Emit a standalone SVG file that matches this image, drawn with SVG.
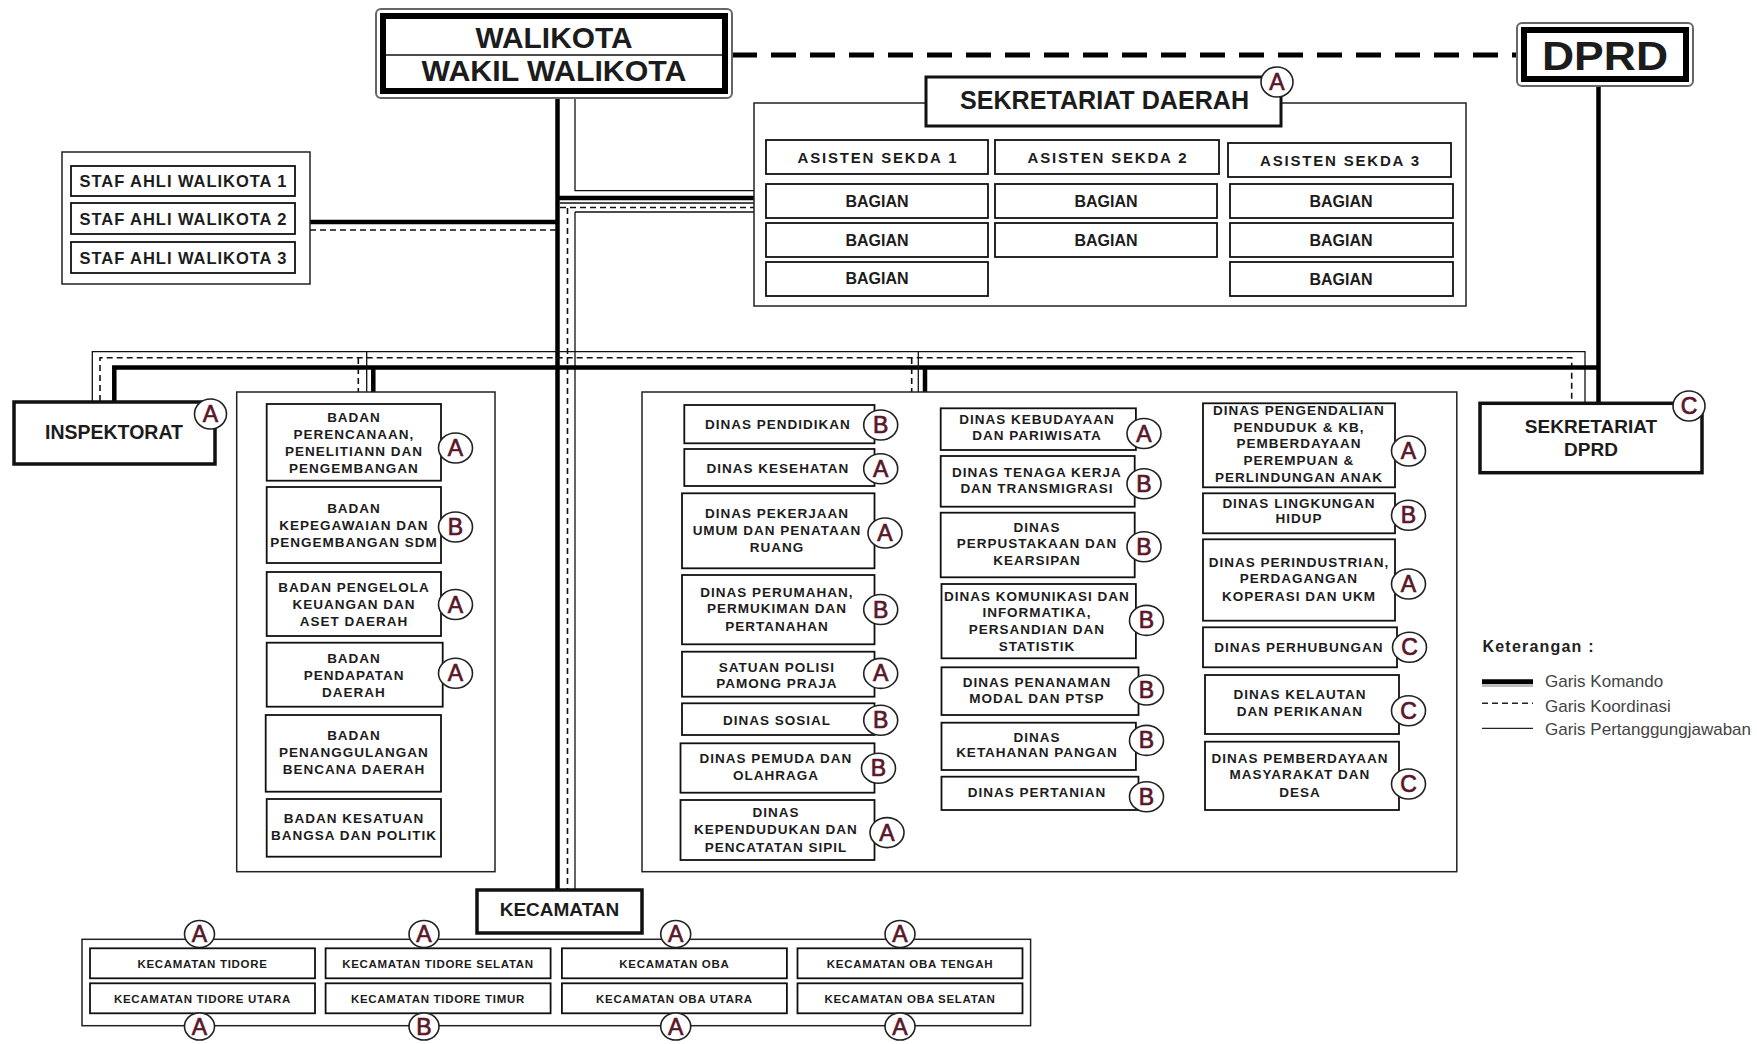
<svg xmlns="http://www.w3.org/2000/svg" width="1757" height="1044" viewBox="0 0 1757 1044">
<defs>
<style>
.bg{fill:#fff}
.box{fill:#fff;stroke:#111;stroke-width:1.8}
.cont{fill:#fff;stroke:#222;stroke-width:1.5}
.tbox{fill:#fff;stroke:#111;stroke-width:3.5}
.t{font-family:"Liberation Sans",Arial,sans-serif;font-weight:bold;fill:#1c1c1c;text-anchor:middle}
.s{font-size:13.5px;letter-spacing:1px}
.k{font-size:11.5px;letter-spacing:0.7px}
.bg-e{fill:#fff;stroke:#222;stroke-width:1.6}
.bl{font-family:"Liberation Sans",Arial,sans-serif;font-size:23px;fill:#5a1628;stroke:#5a1628;stroke-width:0.7;text-anchor:middle}
.thick{stroke:#000;stroke-width:4.5;fill:none}
.thin{stroke:#111;stroke-width:1.3;fill:none}
.dash{stroke:#111;stroke-width:1.6;stroke-dasharray:6 4;fill:none}
.leg{font-family:"Liberation Sans",Arial,sans-serif;font-size:17px;fill:#444}
</style>
</defs>
<rect class="bg" x="0" y="0" width="1757" height="1044"/>

<g id="connectors">
  <line x1="732" y1="55" x2="1517" y2="55" stroke="#000" stroke-width="5" stroke-dasharray="25 14"/>
  <line class="thick" x1="557.5" y1="98" x2="557.5" y2="890"/>
  <line class="dash" x1="567.5" y1="208" x2="567.5" y2="890"/>
  <line class="thin" x1="575" y1="212" x2="575" y2="890"/>
  <polyline class="thin" points="575,98 575,190.7 755,190.7"/>
  <line class="thick" x1="557" y1="198" x2="755" y2="198"/>
  <line class="thin" x1="560" y1="203" x2="755" y2="203"/>
  <line class="dash" x1="560" y1="207.5" x2="755" y2="207.5"/>
  <line class="thin" x1="575" y1="212" x2="755" y2="212"/>
  <line class="thick" x1="310" y1="222" x2="557" y2="222"/>
  <line class="dash" x1="310" y1="230" x2="557" y2="230"/>
  <line class="thick" x1="1598.5" y1="86" x2="1598.5" y2="403"/>
  <polyline class="thin" points="92.3,401 92.3,351.7 1585,351.7 1585,403"/>
  <polyline class="dash" points="100,401 100,357.7 1571.7,357.7 1571.7,403"/>
  <polyline class="thick" points="114.3,402 114.3,367.5 1598.5,367.5"/>
  <line class="dash" x1="358.3" y1="358" x2="358.3" y2="392"/>
  <line class="thin" x1="366.7" y1="351.7" x2="366.7" y2="392"/>
  <line class="thick" x1="373.3" y1="367.5" x2="373.3" y2="392"/>
  <line class="dash" x1="911.7" y1="358" x2="911.7" y2="392"/>
  <line class="thin" x1="918.3" y1="351.7" x2="918.3" y2="392"/>
  <line class="thick" x1="925" y1="367.5" x2="925" y2="392"/>
</g>

<g id="walikota">
  <rect x="376" y="9" width="356" height="89" rx="5" fill="#fff" stroke="#666" stroke-width="2"/>
  <rect x="383" y="16" width="342" height="75" fill="#fff" stroke="#000" stroke-width="6"/>
  <line x1="386" y1="55" x2="722" y2="55" stroke="#111" stroke-width="1.5"/>
  <text class="t" x="554" y="47.7" font-size="30" textLength="157" lengthAdjust="spacingAndGlyphs">WALIKOTA</text>
  <text class="t" x="554" y="81" font-size="30" textLength="265" lengthAdjust="spacingAndGlyphs">WAKIL WALIKOTA</text>
</g>

<g id="dprd">
  <rect x="1517" y="23" width="176" height="63" rx="5" fill="#fff" stroke="#666" stroke-width="2"/>
  <rect x="1524" y="30" width="162" height="49" fill="#fff" stroke="#000" stroke-width="6"/>
  <text class="t" x="1605" y="70" font-size="40" textLength="126" lengthAdjust="spacingAndGlyphs">DPRD</text>
</g>

<g id="sekretariat-daerah">
  <rect class="cont" x="754" y="103" width="712" height="203"/>
  <rect x="926" y="77" width="355" height="49" fill="#fff" stroke="#111" stroke-width="3"/>
  <text class="t" x="1104.5" y="109" font-size="26" textLength="289" lengthAdjust="spacingAndGlyphs">SEKRETARIAT  DAERAH</text>
  <ellipse class="bg-e" cx="1277" cy="82" rx="16" ry="15"/><text class="bl" x="1277" y="90">A</text>
  <rect class="box" x="766" y="140" width="222" height="34"/>
  <text class="t" x="877" y="162.7" font-size="15" textLength="159" lengthAdjust="spacing">ASISTEN  SEKDA 1</text>
  <rect class="box" x="995" y="140" width="224" height="34"/>
  <text class="t" x="1107" y="162.7" font-size="15" textLength="159" lengthAdjust="spacing">ASISTEN  SEKDA 2</text>
  <rect class="box" x="1228" y="143" width="223" height="34"/>
  <text class="t" x="1339.5" y="166" font-size="15" textLength="159" lengthAdjust="spacing">ASISTEN  SEKDA 3</text>
  <rect class="box" x="766" y="184" width="222" height="34"/><text class="t" x="877" y="207" font-size="16">BAGIAN</text>
  <rect class="box" x="766" y="223" width="222" height="34"/><text class="t" x="877" y="246" font-size="16">BAGIAN</text>
  <rect class="box" x="766" y="262" width="222" height="34"/><text class="t" x="877" y="284" font-size="16">BAGIAN</text>
  <rect class="box" x="995" y="184" width="222" height="34"/><text class="t" x="1106" y="207" font-size="16">BAGIAN</text>
  <rect class="box" x="995" y="223" width="222" height="34"/><text class="t" x="1106" y="246" font-size="16">BAGIAN</text>
  <rect class="box" x="1230" y="184" width="223" height="34"/><text class="t" x="1341" y="207" font-size="16">BAGIAN</text>
  <rect class="box" x="1230" y="223" width="223" height="34"/><text class="t" x="1341" y="246" font-size="16">BAGIAN</text>
  <rect class="box" x="1230" y="262" width="223" height="34"/><text class="t" x="1341" y="285" font-size="16">BAGIAN</text>
</g>

<g id="staf-ahli">
  <rect class="cont" x="62" y="152" width="248" height="132"/>
  <rect class="box" x="71" y="166" width="224" height="30"/>
  <text class="t" x="183" y="186.5" font-size="16.5" textLength="207" lengthAdjust="spacing">STAF  AHLI WALIKOTA  1</text>
  <rect class="box" x="71" y="203" width="224" height="31"/>
  <text class="t" x="183" y="224.5" font-size="16.5" textLength="207" lengthAdjust="spacing">STAF  AHLI WALIKOTA  2</text>
  <rect class="box" x="71" y="242" width="224" height="31"/>
  <text class="t" x="183" y="263.5" font-size="16.5" textLength="207" lengthAdjust="spacing">STAF  AHLI WALIKOTA  3</text>
</g>

<g id="inspektorat">
  <rect class="tbox" x="14" y="402" width="201" height="62"/>
  <text class="t" x="114" y="439" font-size="19.5">INSPEKTORAT</text>
  <ellipse class="bg-e" cx="210.5" cy="414" rx="16" ry="15"/><text class="bl" x="210.5" y="422">A</text>
</g>

<g id="badan">
  <rect class="cont" x="236.7" y="392" width="258.3" height="479.7"/>
  <rect class="box" x="266.7" y="404" width="174.3" height="76.7"/>
  <text class="t s" x="354"><tspan x="354" y="421.7">BADAN</tspan><tspan x="354" y="438.5">PERENCANAAN,</tspan><tspan x="354" y="455.5">PENELITIANN DAN</tspan><tspan x="354" y="472.5">PENGEMBANGAN</tspan></text>
  <rect class="box" x="266.7" y="487" width="174.3" height="76"/>
  <text class="t s" x="354"><tspan x="354" y="513">BADAN</tspan><tspan x="354" y="530">KEPEGAWAIAN  DAN</tspan><tspan x="354" y="546.7">PENGEMBANGAN  SDM</tspan></text>
  <rect class="box" x="266.7" y="572" width="174.3" height="64"/>
  <text class="t s" x="354"><tspan x="354" y="592.3">BADAN PENGELOLA</tspan><tspan x="354" y="608.8">KEUANGAN  DAN</tspan><tspan x="354" y="625.7">ASET DAERAH</tspan></text>
  <rect class="box" x="266.7" y="642.7" width="176" height="64"/>
  <text class="t s" x="354"><tspan x="354" y="663.3">BADAN</tspan><tspan x="354" y="679.8">PENDAPATAN</tspan><tspan x="354" y="696.7">DAERAH</tspan></text>
  <rect class="box" x="265.7" y="715" width="175.3" height="76.7"/>
  <text class="t s" x="354"><tspan x="354" y="740">BADAN</tspan><tspan x="354" y="757">PENANGGULANGAN</tspan><tspan x="354" y="774.3">BENCANA DAERAH</tspan></text>
  <rect class="box" x="266.7" y="799" width="174.3" height="57.7"/>
  <text class="t s" x="354"><tspan x="354" y="823.3">BADAN KESATUAN</tspan><tspan x="354" y="840">BANGSA  DAN POLITIK</tspan></text>
  <ellipse class="bg-e" cx="455.5" cy="448" rx="17" ry="15"/><text class="bl" x="455.5" y="456">A</text>
  <ellipse class="bg-e" cx="455.5" cy="527" rx="17" ry="15"/><text class="bl" x="455.5" y="535">B</text>
  <ellipse class="bg-e" cx="455.5" cy="604.5" rx="17" ry="15"/><text class="bl" x="455.5" y="612.5">A</text>
  <ellipse class="bg-e" cx="455.5" cy="673.3" rx="17" ry="15"/><text class="bl" x="455.5" y="681.3">A</text>
</g>

<g id="dinas">
  <rect class="cont" x="642" y="392" width="814.8" height="479.7"/>
  <rect class="box" x="684.3" y="405" width="190.2" height="38.3"/>
  <text class="t s" x="778" y="429.3">DINAS PENDIDIKAN</text>
  <rect class="box" x="684.3" y="449" width="190.2" height="37"/>
  <text class="t s" x="778" y="472.5">DINAS KESEHATAN</text>
  <rect class="box" x="682" y="493.3" width="192.5" height="75"/>
  <text class="t s" x="777"><tspan x="777" y="518.3">DINAS PEKERJAAN</tspan><tspan x="777" y="535">UMUM DAN PENATAAN</tspan><tspan x="777" y="551.7">RUANG</tspan></text>
  <rect class="box" x="682" y="575" width="192.5" height="69.3"/>
  <text class="t s" x="777"><tspan x="777" y="596.7">DINAS PERUMAHAN,</tspan><tspan x="777" y="613.3">PERMUKIMAN DAN</tspan><tspan x="777" y="630.7">PERTANAHAN</tspan></text>
  <rect class="box" x="682" y="651.7" width="192.5" height="45"/>
  <text class="t s" x="777"><tspan x="777" y="671.7">SATUAN POLISI</tspan><tspan x="777" y="687.5">PAMONG PRAJA</tspan></text>
  <rect class="box" x="682" y="703.3" width="192.5" height="31.7"/>
  <text class="t s" x="777" y="724.5">DINAS SOSIAL</text>
  <rect class="box" x="680.5" y="743.3" width="194" height="49.4"/>
  <text class="t s" x="776"><tspan x="776" y="763.3">DINAS PEMUDA DAN</tspan><tspan x="776" y="779.5">OLAHRAGA</tspan></text>
  <rect class="box" x="680.5" y="800" width="194" height="60"/>
  <text class="t s" x="776"><tspan x="776" y="816.7">DINAS</tspan><tspan x="776" y="834">KEPENDUDUKAN DAN</tspan><tspan x="776" y="851.5">PENCATATAN  SIPIL</tspan></text>
  <rect class="box" x="940.7" y="408.3" width="195.2" height="41.7"/>
  <text class="t s" x="1037"><tspan x="1037" y="423.5">DINAS KEBUDAYAAN</tspan><tspan x="1037" y="440">DAN PARIWISATA</tspan></text>
  <rect class="box" x="940.7" y="456" width="194" height="50.7"/>
  <text class="t s" x="1037"><tspan x="1037" y="476.7">DINAS TENAGA  KERJA</tspan><tspan x="1037" y="492.7">DAN TRANSMIGRASI</tspan></text>
  <rect class="box" x="940.7" y="512.7" width="194" height="64.6"/>
  <text class="t s" x="1037"><tspan x="1037" y="531.7">DINAS</tspan><tspan x="1037" y="548.3">PERPUSTAKAAN  DAN</tspan><tspan x="1037" y="565">KEARSIPAN</tspan></text>
  <rect class="box" x="941.5" y="584" width="194.4" height="74.3"/>
  <text class="t s" x="1037"><tspan x="1037" y="600.7">DINAS KOMUNIKASI DAN</tspan><tspan x="1037" y="616.7">INFORMATIKA,</tspan><tspan x="1037" y="634">PERSANDIAN  DAN</tspan><tspan x="1037" y="650.7">STATISTIK</tspan></text>
  <rect class="box" x="941.5" y="667.3" width="197" height="47.7"/>
  <text class="t s" x="1037"><tspan x="1037" y="686.7">DINAS PENANAMAN</tspan><tspan x="1037" y="703.3">MODAL DAN PTSP</tspan></text>
  <rect class="box" x="941.5" y="722.7" width="194.4" height="47.3"/>
  <text class="t s" x="1037"><tspan x="1037" y="741.7">DINAS</tspan><tspan x="1037" y="756.7">KETAHANAN  PANGAN</tspan></text>
  <rect class="box" x="941.5" y="776.7" width="197" height="33.3"/>
  <text class="t s" x="1037" y="796.7">DINAS PERTANIAN</text>
  <rect class="box" x="1203" y="403.3" width="192" height="84"/>
  <text class="t s" x="1299"><tspan x="1299" y="415">DINAS PENGENDALIAN</tspan><tspan x="1299" y="431.7">PENDUDUK &amp; KB,</tspan><tspan x="1299" y="448.3">PEMBERDAYAAN</tspan><tspan x="1299" y="465">PEREMPUAN &amp;</tspan><tspan x="1299" y="481.7">PERLINDUNGAN ANAK</tspan></text>
  <rect class="box" x="1203" y="493.3" width="192" height="40"/>
  <text class="t s" x="1299"><tspan x="1299" y="508.3">DINAS LINGKUNGAN</tspan><tspan x="1299" y="523.3">HIDUP</tspan></text>
  <rect class="box" x="1203" y="539.3" width="192" height="81.4"/>
  <text class="t s" x="1299"><tspan x="1299" y="566.7">DINAS PERINDUSTRIAN,</tspan><tspan x="1299" y="583.3">PERDAGANGAN</tspan><tspan x="1299" y="600.7">KOPERASI  DAN UKM</tspan></text>
  <rect class="box" x="1203" y="627.3" width="194" height="40"/>
  <text class="t s" x="1299" y="651.7">DINAS PERHUBUNGAN</text>
  <rect class="box" x="1205" y="675" width="194" height="59"/>
  <text class="t s" x="1300"><tspan x="1300" y="699.3">DINAS KELAUTAN</tspan><tspan x="1300" y="716">DAN PERIKANAN</tspan></text>
  <rect class="box" x="1205" y="741.7" width="194" height="68.3"/>
  <text class="t s" x="1300"><tspan x="1300" y="762.7">DINAS PEMBERDAYAAN</tspan><tspan x="1300" y="779.3">MASYARAKAT  DAN</tspan><tspan x="1300" y="796.7">DESA</tspan></text>
  <ellipse class="bg-e" cx="880.7" cy="425" rx="17" ry="15"/><text class="bl" x="880.7" y="433">B</text>
  <ellipse class="bg-e" cx="880.7" cy="468.7" rx="17" ry="15"/><text class="bl" x="880.7" y="476.7">A</text>
  <ellipse class="bg-e" cx="885" cy="533" rx="17" ry="15"/><text class="bl" x="885" y="541">A</text>
  <ellipse class="bg-e" cx="880.7" cy="609.5" rx="17" ry="15"/><text class="bl" x="880.7" y="617.5">B</text>
  <ellipse class="bg-e" cx="880.7" cy="673.4" rx="17" ry="15"/><text class="bl" x="880.7" y="681.4">A</text>
  <ellipse class="bg-e" cx="880.7" cy="720.3" rx="17" ry="15"/><text class="bl" x="880.7" y="728.3">B</text>
  <ellipse class="bg-e" cx="878.5" cy="768.2" rx="17" ry="15"/><text class="bl" x="878.5" y="776.2">B</text>
  <ellipse class="bg-e" cx="887" cy="832.6" rx="17" ry="15"/><text class="bl" x="887" y="840.6">A</text>
  <ellipse class="bg-e" cx="1144" cy="433.5" rx="17" ry="15"/><text class="bl" x="1144" y="441.5">A</text>
  <ellipse class="bg-e" cx="1144" cy="483.7" rx="17" ry="15"/><text class="bl" x="1144" y="491.7">B</text>
  <ellipse class="bg-e" cx="1144" cy="546.7" rx="17" ry="15"/><text class="bl" x="1144" y="554.7">B</text>
  <ellipse class="bg-e" cx="1146.5" cy="620.4" rx="17" ry="15"/><text class="bl" x="1146.5" y="628.4">B</text>
  <ellipse class="bg-e" cx="1146.5" cy="690" rx="17" ry="15"/><text class="bl" x="1146.5" y="698">B</text>
  <ellipse class="bg-e" cx="1146.5" cy="740.4" rx="17" ry="15"/><text class="bl" x="1146.5" y="748.4">B</text>
  <ellipse class="bg-e" cx="1146.5" cy="796.7" rx="17" ry="15"/><text class="bl" x="1146.5" y="804.7">B</text>
  <ellipse class="bg-e" cx="1408.5" cy="451" rx="17" ry="15"/><text class="bl" x="1408.5" y="459">A</text>
  <ellipse class="bg-e" cx="1408.5" cy="515.2" rx="17" ry="15"/><text class="bl" x="1408.5" y="523.2">B</text>
  <ellipse class="bg-e" cx="1408.5" cy="584" rx="17" ry="15"/><text class="bl" x="1408.5" y="592">A</text>
  <ellipse class="bg-e" cx="1409.5" cy="647.2" rx="17" ry="15"/><text class="bl" x="1409.5" y="655.2">C</text>
  <ellipse class="bg-e" cx="1408.5" cy="710.8" rx="17" ry="15"/><text class="bl" x="1408.5" y="718.8">C</text>
  <ellipse class="bg-e" cx="1408.5" cy="784" rx="17" ry="15"/><text class="bl" x="1408.5" y="792">C</text>
</g>

<g id="sekretariat-dprd">
  <rect class="tbox" x="1480" y="403.3" width="222" height="69.4"/>
  <text class="t" x="1591" y="433" font-size="19">SEKRETARIAT</text>
  <text class="t" x="1591" y="456" font-size="19">DPRD</text>
  <ellipse class="bg-e" cx="1689" cy="406" rx="16" ry="15"/><text class="bl" x="1689" y="414">C</text>
</g>

<g id="kecamatan">
  <rect class="tbox" x="477" y="890" width="165" height="43"/>
  <text class="t" x="559.5" y="916" font-size="19">KECAMATAN</text>
  <rect class="cont" x="82" y="939.3" width="948.6" height="86.4"/>
  <rect class="box" x="90" y="948.3" width="225" height="30"/><text class="t k" x="202.5" y="967.5">KECAMATAN TIDORE</text>
  <rect class="box" x="325.6" y="948.3" width="225" height="30"/><text class="t k" x="438" y="967.5">KECAMATAN TIDORE  SELATAN</text>
  <rect class="box" x="561.9" y="948.3" width="225" height="30"/><text class="t k" x="674.4" y="967.5">KECAMATAN OBA</text>
  <rect class="box" x="797.5" y="948.3" width="225" height="30"/><text class="t k" x="910" y="967.5">KECAMATAN OBA TENGAH</text>
  <rect class="box" x="90" y="983.3" width="225" height="30"/><text class="t k" x="202.5" y="1002.5">KECAMATAN TIDORE UTARA</text>
  <rect class="box" x="325.6" y="983.3" width="225" height="30"/><text class="t k" x="438" y="1002.5">KECAMATAN TIDORE TIMUR</text>
  <rect class="box" x="561.9" y="983.3" width="225" height="30"/><text class="t k" x="674.4" y="1002.5">KECAMATAN OBA UTARA</text>
  <rect class="box" x="797.5" y="983.3" width="225" height="30"/><text class="t k" x="910" y="1002.5">KECAMATAN OBA  SELATAN</text>
  <ellipse class="bg-e" cx="199.5" cy="934" rx="15" ry="13.5"/><text class="bl" x="199.5" y="942">A</text>
  <ellipse class="bg-e" cx="424" cy="934" rx="15" ry="13.5"/><text class="bl" x="424" y="942">A</text>
  <ellipse class="bg-e" cx="675.7" cy="934" rx="15" ry="13.5"/><text class="bl" x="675.7" y="942">A</text>
  <ellipse class="bg-e" cx="900" cy="934" rx="15" ry="13.5"/><text class="bl" x="900" y="942">A</text>
  <ellipse class="bg-e" cx="199.5" cy="1026.5" rx="15" ry="13.5"/><text class="bl" x="199.5" y="1034.5">A</text>
  <ellipse class="bg-e" cx="424" cy="1026.5" rx="15" ry="13.5"/><text class="bl" x="424" y="1034.5">B</text>
  <ellipse class="bg-e" cx="675.7" cy="1026.5" rx="15" ry="13.5"/><text class="bl" x="675.7" y="1034.5">A</text>
  <ellipse class="bg-e" cx="900" cy="1026.5" rx="15" ry="13.5"/><text class="bl" x="900" y="1034.5">A</text>
</g>

<g id="legend">
  <text x="1482.5" y="651.7" font-family="Liberation Sans, Arial, sans-serif" font-size="16" font-weight="bold" fill="#222" textLength="111" lengthAdjust="spacing">Keterangan :</text>
  <line x1="1482" y1="681.7" x2="1533" y2="681.7" stroke="#000" stroke-width="5"/>
  <line x1="1482" y1="686" x2="1533" y2="686" stroke="#bbb" stroke-width="2"/>
  <text class="leg" x="1545" y="686.7">Garis Komando</text>
  <line x1="1482" y1="703.3" x2="1533" y2="703.3" stroke="#222" stroke-width="1.5" stroke-dasharray="6 4"/>
  <text class="leg" x="1545" y="711.7">Garis Koordinasi</text>
  <line x1="1482" y1="728.3" x2="1533" y2="728.3" stroke="#222" stroke-width="1.3"/>
  <text class="leg" x="1545" y="735">Garis Pertanggungjawaban</text>
</g>
</svg>
